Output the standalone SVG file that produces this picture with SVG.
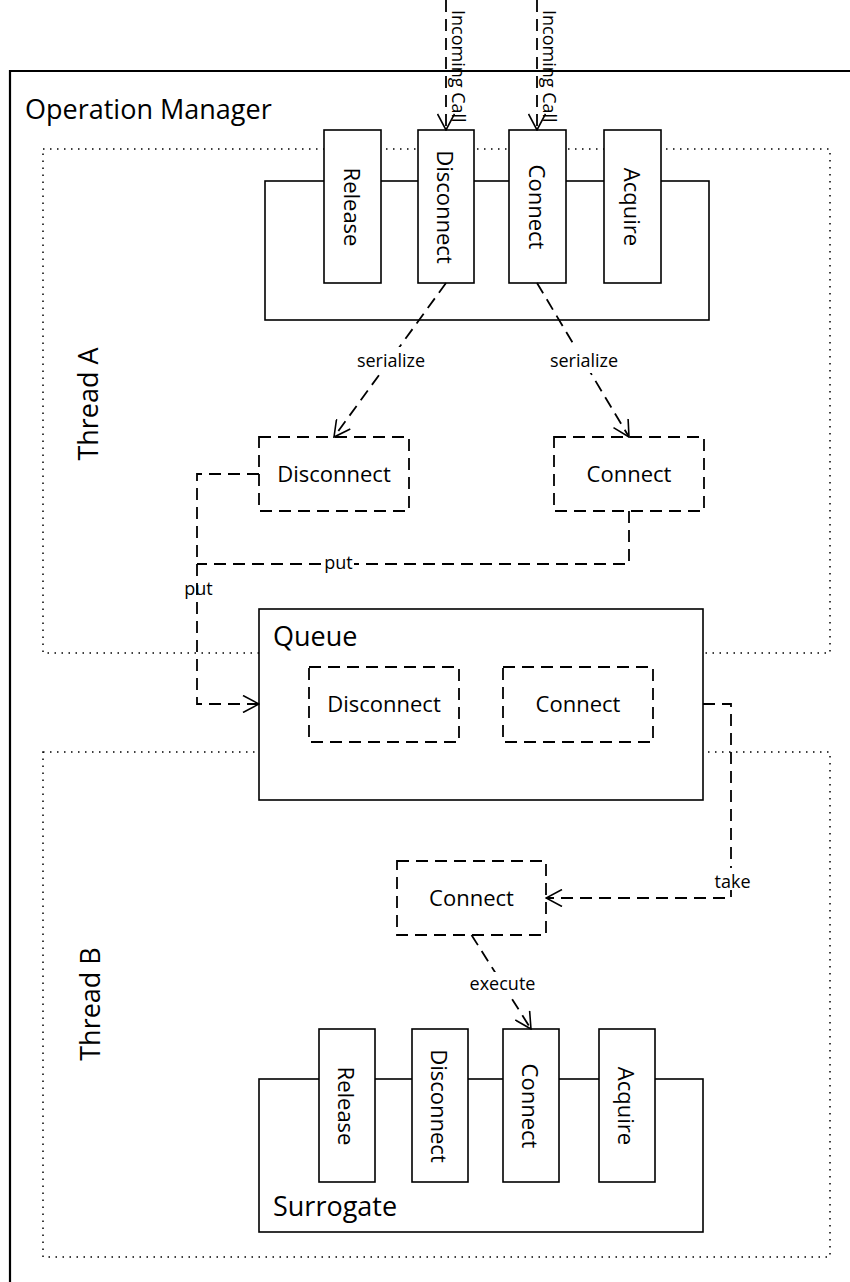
<svg xmlns="http://www.w3.org/2000/svg" width="850" height="1282" viewBox="0 0 850 1282">
  <style>
    .txt { font-family: "Open Sans", "Liberation Sans", sans-serif; fill: #000; }
    .big { font-size: 27px; }
    .mid { font-size: 22px; }
    .sm { font-size: 18px; }
    .solid { fill: #fff; stroke: #000; stroke-width: 1.6; }
    .frame { fill: none; stroke: #000; stroke-width: 2.2; }
    .dotted { fill: none; stroke: #000; stroke-width: 1.5; stroke-dasharray: 1.5 5.5; }
    .dashbox { fill: #fff; stroke: #000; stroke-width: 1.8; stroke-dasharray: 12 7; }
    .conn { fill: none; stroke: #000; stroke-width: 1.8; stroke-dasharray: 12 7; }
    .mask { fill: #fff; stroke: none; }
  </style>
  <defs>
    <marker id="open-arrow" viewBox="0 0 18 18" markerWidth="18" markerHeight="18" refX="17" refY="9" orient="auto" markerUnits="userSpaceOnUse">
      <path d="M1,0.5 L17,9 L1,17.5" fill="none" stroke="#000" stroke-width="1.6"/>
    </marker>
  </defs>

  <rect width="850" height="1282" fill="#fff"/>

  <!-- Operation Manager frame (continues past the right and bottom edges) -->
  <g id="operation-manager">
    <path class="frame" d="M852,71 H10 V1284"/>
    <text class="txt big" x="25" y="119">Operation Manager</text>
  </g>

  <!-- Thread regions -->
  <g id="thread-a">
    <rect class="dotted" x="43" y="149" width="787" height="504"/>
    <text class="txt big" text-anchor="middle" transform="translate(98,404) rotate(-90)">Thread A</text>
  </g>
  <g id="thread-b">
    <rect class="dotted" x="43" y="752" width="787" height="505"/>
    <text class="txt big" text-anchor="middle" transform="translate(100,1004) rotate(-90)">Thread B</text>
  </g>

  <!-- Interface exposed by the Operation Manager -->
  <g id="api">
    <rect class="solid" x="265" y="181" width="444" height="139" fill="none"/>
    <g id="api-release">
      <rect class="solid" x="324" y="130" width="57" height="153"/>
      <text class="txt mid" text-anchor="middle" dominant-baseline="central" transform="translate(352.5,207) rotate(90)">Release</text>
    </g>
    <g id="api-disconnect">
      <rect class="solid" x="418" y="130" width="56" height="153"/>
      <text class="txt mid" text-anchor="middle" dominant-baseline="central" transform="translate(446,207) rotate(90)">Disconnect</text>
    </g>
    <g id="api-connect">
      <rect class="solid" x="509" y="130" width="57" height="153"/>
      <text class="txt mid" text-anchor="middle" dominant-baseline="central" transform="translate(537.5,207) rotate(90)">Connect</text>
    </g>
    <g id="api-acquire">
      <rect class="solid" x="604" y="130" width="57" height="153"/>
      <text class="txt mid" text-anchor="middle" dominant-baseline="central" transform="translate(632.5,207) rotate(90)">Acquire</text>
    </g>
  </g>

  <!-- Serialized requests in Thread A -->
  <g id="req-disconnect-a">
    <rect class="dashbox" x="259" y="437" width="150" height="74"/>
    <text class="txt mid" x="334" y="482" text-anchor="middle">Disconnect</text>
  </g>
  <g id="req-connect-a">
    <rect class="dashbox" x="554" y="437" width="150" height="74"/>
    <text class="txt mid" x="629" y="482" text-anchor="middle">Connect</text>
  </g>

  <!-- Queue -->
  <g id="queue">
    <rect class="solid" x="259" y="609" width="444" height="191"/>
    <text class="txt big" x="273" y="646">Queue</text>
    <g id="queue-disconnect">
      <rect class="dashbox" x="309" y="667" width="150" height="75"/>
      <text class="txt mid" x="384" y="712" text-anchor="middle">Disconnect</text>
    </g>
    <g id="queue-connect">
      <rect class="dashbox" x="503" y="667" width="150" height="75"/>
      <text class="txt mid" x="578" y="712" text-anchor="middle">Connect</text>
    </g>
  </g>

  <!-- Request taken by Thread B -->
  <g id="req-connect-b">
    <rect class="dashbox" x="397" y="861" width="149" height="74"/>
    <text class="txt mid" x="471.5" y="906" text-anchor="middle">Connect</text>
  </g>

  <!-- Surrogate -->
  <g id="surrogate">
    <rect class="solid" x="259" y="1079" width="444" height="153" fill="none"/>
    <text class="txt big" x="273" y="1216">Surrogate</text>
    <g id="sur-release">
      <rect class="solid" x="319" y="1029" width="56" height="153"/>
      <text class="txt mid" text-anchor="middle" dominant-baseline="central" transform="translate(347,1106) rotate(90)">Release</text>
    </g>
    <g id="sur-disconnect">
      <rect class="solid" x="412" y="1029" width="56" height="153"/>
      <text class="txt mid" text-anchor="middle" dominant-baseline="central" transform="translate(440,1106) rotate(90)">Disconnect</text>
    </g>
    <g id="sur-connect">
      <rect class="solid" x="503" y="1029" width="56" height="153"/>
      <text class="txt mid" text-anchor="middle" dominant-baseline="central" transform="translate(531,1106) rotate(90)">Connect</text>
    </g>
    <g id="sur-acquire">
      <rect class="solid" x="599" y="1029" width="56" height="153"/>
      <text class="txt mid" text-anchor="middle" dominant-baseline="central" transform="translate(627,1106) rotate(90)">Acquire</text>
    </g>
  </g>

  <!-- Connectors -->
  <g id="connectors">
    <!-- incoming calls -->
    <line class="conn" x1="446" y1="0" x2="446" y2="130" marker-end="url(#open-arrow)"/>
    <text class="txt sm" transform="translate(451.5,10) rotate(90)">Incoming Call</text>
    <line class="conn" x1="537" y1="0" x2="537" y2="130" marker-end="url(#open-arrow)"/>
    <text class="txt sm" transform="translate(542.5,10) rotate(90)">Incoming Call</text>

    <!-- serialize -->
    <line class="conn" x1="446" y1="283" x2="334" y2="437" marker-end="url(#open-arrow)"/>
    <rect class="mask" x="355" y="347" width="72" height="26"/>
    <text class="txt sm" x="391" y="367" text-anchor="middle">serialize</text>
    <line class="conn" x1="537" y1="283" x2="629" y2="437" marker-end="url(#open-arrow)"/>
    <rect class="mask" x="548" y="347" width="72" height="26"/>
    <text class="txt sm" x="584" y="367" text-anchor="middle">serialize</text>

    <!-- put -->
    <path class="conn" d="M629,511 V564 H197"/>
    <rect class="mask" x="323" y="552" width="31" height="24"/>
    <text class="txt sm" x="338.5" y="569" text-anchor="middle">put</text>
    <path class="conn" d="M259,474 H197 V704 H259" marker-end="url(#open-arrow)"/>
    <text class="txt sm" x="198.5" y="595" text-anchor="middle">put</text>

    <!-- take -->
    <path class="conn" d="M703,704 H731 V898 H546" marker-end="url(#open-arrow)"/>
    <rect class="mask" x="714" y="868" width="37" height="22"/>
    <text class="txt sm" x="732.5" y="888" text-anchor="middle">take</text>

    <!-- execute -->
    <line class="conn" x1="471.5" y1="935" x2="531" y2="1029" marker-end="url(#open-arrow)"/>
    <rect class="mask" x="467" y="972" width="71" height="22"/>
    <text class="txt sm" x="502.5" y="990" text-anchor="middle">execute</text>
  </g>
</svg>
